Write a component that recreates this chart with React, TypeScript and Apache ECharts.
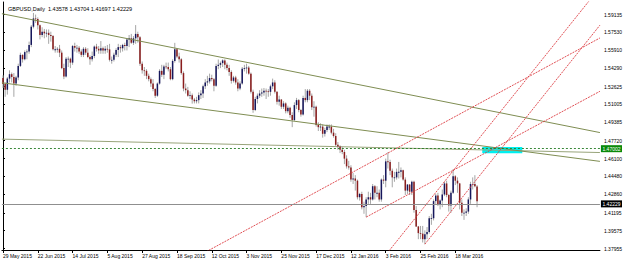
import React, { useEffect, useRef } from "react";
import * as echarts from "echarts";

const titleText = "GBPUSD,Daily  1.43578 1.43704 1.41697 1.42229";

const xTickIndex = [0, 16, 32, 48, 64, 80, 96, 112, 128, 144, 160, 176, 192, 208];
const xTickLabels = [
  "29 May 2015", "22 Jun 2015", "14 Jul 2015", "5 Aug 2015", "27 Aug 2015", "18 Sep 2015",
  "12 Oct 2015", "3 Nov 2015", "25 Nov 2015", "17 Dec 2015", "12 Jan 2016", "3 Feb 2016",
  "25 Feb 2016", "18 Mar 2016",
];
const yTickLabels = [
  1.59135, 1.5753, 1.5591, 1.5429, 1.52625, 1.51005, 1.49385, 1.4772, 1.461, 1.4448,
  1.4286, 1.41195, 1.39575, 1.37955,
];

// daily bars [open, high, low, close], 29 May 2015 .. 1 Apr 2016
const ohlc = [
  [1.5340, 1.5365, 1.5250, 1.5285], [1.5285, 1.5300, 1.5170, 1.5233], [1.5233, 1.5350, 1.5190, 1.5335],
  [1.5335, 1.5410, 1.5300, 1.5375], [1.5375, 1.5390, 1.5300, 1.5350], [1.5350, 1.5385, 1.5170, 1.5290],
  [1.5290, 1.5360, 1.5270, 1.5345], [1.5345, 1.5470, 1.5320, 1.5450], [1.5450, 1.5570, 1.5440, 1.5550],
  [1.5550, 1.5555, 1.5480, 1.5510], [1.5510, 1.5590, 1.5500, 1.5575], [1.5575, 1.5600, 1.5510, 1.5580],
  [1.5580, 1.5670, 1.5560, 1.5640], [1.5640, 1.5820, 1.5620, 1.5805], [1.5805, 1.5930, 1.5790, 1.5880],
  [1.5880, 1.5915, 1.5840, 1.5875], [1.5875, 1.5890, 1.5780, 1.5818], [1.5818, 1.5825, 1.5690, 1.5730],
  [1.5730, 1.5800, 1.5710, 1.5760], [1.5760, 1.5785, 1.5700, 1.5745], [1.5745, 1.5780, 1.5710, 1.5750],
  [1.5750, 1.5780, 1.5650, 1.5730], [1.5730, 1.5760, 1.5670, 1.5720], [1.5720, 1.5730, 1.5590, 1.5600],
  [1.5600, 1.5630, 1.5570, 1.5600], [1.5600, 1.5620, 1.5570, 1.5605], [1.5605, 1.5640, 1.5530, 1.5570],
  [1.5570, 1.5590, 1.5420, 1.5430], [1.5430, 1.5470, 1.5330, 1.5355], [1.5355, 1.5530, 1.5345, 1.5515],
  [1.5515, 1.5535, 1.5440, 1.5515], [1.5515, 1.5525, 1.5430, 1.5480], [1.5480, 1.5640, 1.5460, 1.5630],
  [1.5630, 1.5660, 1.5580, 1.5615], [1.5615, 1.5640, 1.5570, 1.5615], [1.5615, 1.5630, 1.5560, 1.5580],
  [1.5580, 1.5600, 1.5530, 1.5550], [1.5550, 1.5620, 1.5530, 1.5605], [1.5605, 1.5620, 1.5550, 1.5570],
  [1.5570, 1.5610, 1.5520, 1.5530], [1.5530, 1.5545, 1.5460, 1.5510], [1.5510, 1.5580, 1.5490, 1.5540],
  [1.5540, 1.5635, 1.5520, 1.5625], [1.5625, 1.5650, 1.5580, 1.5605], [1.5605, 1.5630, 1.5560, 1.5590],
  [1.5590, 1.5675, 1.5560, 1.5610], [1.5610, 1.5625, 1.5560, 1.5590], [1.5590, 1.5630, 1.5560, 1.5605],
  [1.5605, 1.5640, 1.5570, 1.5600], [1.5600, 1.5650, 1.5490, 1.5505], [1.5505, 1.5535, 1.5470, 1.5505],
  [1.5505, 1.5570, 1.5490, 1.5550], [1.5550, 1.5610, 1.5530, 1.5595], [1.5595, 1.5650, 1.5530, 1.5620],
  [1.5620, 1.5640, 1.5570, 1.5610], [1.5610, 1.5650, 1.5580, 1.5640], [1.5640, 1.5660, 1.5590, 1.5630],
  [1.5630, 1.5700, 1.5590, 1.5690], [1.5690, 1.5730, 1.5620, 1.5700], [1.5700, 1.5740, 1.5650, 1.5660],
  [1.5660, 1.5720, 1.5640, 1.5700], [1.5700, 1.5820, 1.5650, 1.5740], [1.5740, 1.5760, 1.5660, 1.5710],
  [1.5710, 1.5720, 1.5450, 1.5470], [1.5470, 1.5490, 1.5380, 1.5410], [1.5410, 1.5440, 1.5360, 1.5405],
  [1.5405, 1.5420, 1.5330, 1.5360], [1.5360, 1.5380, 1.5310, 1.5330], [1.5330, 1.5345, 1.5260, 1.5290],
  [1.5290, 1.5330, 1.5220, 1.5240], [1.5240, 1.5250, 1.5160, 1.5180], [1.5180, 1.5300, 1.5170, 1.5290],
  [1.5290, 1.5420, 1.5280, 1.5405], [1.5405, 1.5460, 1.5350, 1.5370], [1.5370, 1.5460, 1.5330, 1.5445],
  [1.5445, 1.5480, 1.5420, 1.5440], [1.5440, 1.5480, 1.5400, 1.5420], [1.5420, 1.5440, 1.5320, 1.5330],
  [1.5330, 1.5510, 1.5320, 1.5495], [1.5495, 1.5659, 1.5480, 1.5600], [1.5600, 1.5610, 1.5520, 1.5535],
  [1.5535, 1.5570, 1.5480, 1.5510], [1.5510, 1.5520, 1.5370, 1.5385], [1.5385, 1.5400, 1.5220, 1.5245],
  [1.5245, 1.5290, 1.5200, 1.5230], [1.5230, 1.5260, 1.5170, 1.5180], [1.5180, 1.5220, 1.5150, 1.5185],
  [1.5185, 1.5200, 1.5108, 1.5145], [1.5145, 1.5160, 1.5110, 1.5130], [1.5130, 1.5170, 1.5110, 1.5140],
  [1.5140, 1.5210, 1.5110, 1.5185], [1.5185, 1.5230, 1.5150, 1.5200], [1.5200, 1.5280, 1.5160, 1.5265],
  [1.5265, 1.5330, 1.5240, 1.5300], [1.5300, 1.5360, 1.5270, 1.5310], [1.5310, 1.5380, 1.5290, 1.5340],
  [1.5340, 1.5370, 1.5310, 1.5330], [1.5330, 1.5340, 1.5220, 1.5270], [1.5270, 1.5470, 1.5260, 1.5450],
  [1.5450, 1.5508, 1.5420, 1.5460], [1.5460, 1.5490, 1.5430, 1.5475], [1.5475, 1.5510, 1.5440, 1.5500],
  [1.5500, 1.5510, 1.5420, 1.5460], [1.5460, 1.5480, 1.5410, 1.5430], [1.5430, 1.5460, 1.5360, 1.5395],
  [1.5395, 1.5410, 1.5290, 1.5315], [1.5315, 1.5360, 1.5300, 1.5345], [1.5345, 1.5360, 1.5280, 1.5300],
  [1.5300, 1.5330, 1.5220, 1.5245], [1.5245, 1.5310, 1.5230, 1.5290], [1.5290, 1.5440, 1.5280, 1.5425],
  [1.5425, 1.5460, 1.5400, 1.5430], [1.5430, 1.5470, 1.5380, 1.5435], [1.5435, 1.5450, 1.5370, 1.5380],
  [1.5380, 1.5390, 1.5200, 1.5215], [1.5215, 1.5235, 1.5025, 1.5050], [1.5050, 1.5170, 1.5040, 1.5150],
  [1.5150, 1.5200, 1.5110, 1.5180], [1.5180, 1.5230, 1.5160, 1.5200], [1.5200, 1.5245, 1.5170, 1.5210],
  [1.5210, 1.5250, 1.5180, 1.5225], [1.5225, 1.5245, 1.5150, 1.5220], [1.5220, 1.5240, 1.5170, 1.5215],
  [1.5215, 1.5280, 1.5180, 1.5265], [1.5265, 1.5335, 1.5240, 1.5300], [1.5300, 1.5320, 1.5200, 1.5215],
  [1.5215, 1.5220, 1.5100, 1.5125], [1.5125, 1.5180, 1.5090, 1.5145], [1.5145, 1.5150, 1.5060, 1.5080],
  [1.5080, 1.5130, 1.5060, 1.5110], [1.5110, 1.5120, 1.5020, 1.5040], [1.5040, 1.5090, 1.5020, 1.5070],
  [1.5070, 1.5080, 1.4980, 1.5005], [1.5005, 1.5030, 1.4895, 1.4960], [1.4960, 1.5120, 1.4950, 1.5095],
  [1.5095, 1.5160, 1.5060, 1.5140], [1.5140, 1.5150, 1.5030, 1.5050], [1.5050, 1.5060, 1.4990, 1.5010],
  [1.5010, 1.5180, 1.5000, 1.5160], [1.5160, 1.5240, 1.5120, 1.5140], [1.5140, 1.5240, 1.5120, 1.5225],
  [1.5225, 1.5240, 1.5140, 1.5180], [1.5180, 1.5200, 1.5050, 1.5075], [1.5075, 1.5130, 1.4990, 1.5080],
  [1.5080, 1.5090, 1.4900, 1.4915], [1.4915, 1.4940, 1.4860, 1.4895], [1.4895, 1.4930, 1.4860, 1.4900],
  [1.4900, 1.4920, 1.4800, 1.4835], [1.4835, 1.4890, 1.4810, 1.4870], [1.4870, 1.4920, 1.4850, 1.4900],
  [1.4900, 1.4920, 1.4870, 1.4900], [1.4900, 1.4920, 1.4830, 1.4845], [1.4845, 1.4880, 1.4800, 1.4815],
  [1.4815, 1.4840, 1.4720, 1.4735], [1.4735, 1.4760, 1.4690, 1.4720], [1.4720, 1.4730, 1.4660, 1.4690],
  [1.4690, 1.4720, 1.4650, 1.4670], [1.4670, 1.4690, 1.4560, 1.4610], [1.4610, 1.4640, 1.4520, 1.4540],
  [1.4540, 1.4590, 1.4510, 1.4530], [1.4530, 1.4550, 1.4400, 1.4420], [1.4420, 1.4480, 1.4380, 1.4430],
  [1.4430, 1.4460, 1.4320, 1.4410], [1.4410, 1.4420, 1.4240, 1.4260], [1.4260, 1.4300, 1.4230, 1.4290],
  [1.4290, 1.4310, 1.4150, 1.4170], [1.4170, 1.4220, 1.4110, 1.4180], [1.4180, 1.4260, 1.4080, 1.4240],
  [1.4240, 1.4310, 1.4200, 1.4260], [1.4260, 1.4300, 1.4200, 1.4240], [1.4240, 1.4380, 1.4230, 1.4360],
  [1.4360, 1.4370, 1.4240, 1.4300], [1.4300, 1.4360, 1.4260, 1.4300], [1.4300, 1.4330, 1.4220, 1.4240],
  [1.4240, 1.4430, 1.4220, 1.4420], [1.4420, 1.4460, 1.4380, 1.4410], [1.4410, 1.4610, 1.4350, 1.4585],
  [1.4585, 1.4668, 1.4520, 1.4580], [1.4580, 1.4600, 1.4460, 1.4500], [1.4500, 1.4520, 1.4350, 1.4440],
  [1.4440, 1.4490, 1.4400, 1.4440], [1.4440, 1.4520, 1.4420, 1.4490], [1.4490, 1.4580, 1.4430, 1.4490],
  [1.4490, 1.4530, 1.4440, 1.4505], [1.4505, 1.4510, 1.4410, 1.4420], [1.4420, 1.4440, 1.4280, 1.4320],
  [1.4320, 1.4380, 1.4290, 1.4375], [1.4375, 1.4380, 1.4280, 1.4310], [1.4310, 1.4410, 1.4280, 1.4400],
  [1.4400, 1.4410, 1.4120, 1.4145], [1.4145, 1.4180, 1.3990, 1.3995], [1.3995, 1.4000, 1.3880, 1.3935],
  [1.3935, 1.4000, 1.3880, 1.3930], [1.3930, 1.4000, 1.3850, 1.3880], [1.3880, 1.3960, 1.3835, 1.3925],
  [1.3925, 1.3990, 1.3880, 1.3945], [1.3945, 1.4090, 1.3930, 1.4070], [1.4070, 1.4110, 1.4010, 1.4070],
  [1.4070, 1.4240, 1.4050, 1.4225], [1.4225, 1.4290, 1.4200, 1.4275], [1.4275, 1.4300, 1.4180, 1.4190],
  [1.4190, 1.4240, 1.4150, 1.4230], [1.4230, 1.4330, 1.4170, 1.4285], [1.4285, 1.4400, 1.4270, 1.4385],
  [1.4385, 1.4410, 1.4260, 1.4280], [1.4280, 1.4290, 1.4130, 1.4185], [1.4185, 1.4320, 1.4120, 1.4300],
  [1.4300, 1.4515, 1.4290, 1.4450], [1.4450, 1.4460, 1.4370, 1.4410], [1.4410, 1.4440, 1.4300, 1.4385],
  [1.4385, 1.4390, 1.4150, 1.4210], [1.4210, 1.4240, 1.4090, 1.4120], [1.4120, 1.4150, 1.4055, 1.4120],
  [1.4120, 1.4160, 1.4090, 1.4130], [1.4130, 1.4260, 1.4110, 1.4240], [1.4240, 1.4400, 1.4200, 1.4380],
  [1.4380, 1.4440, 1.4330, 1.4380], [1.4380, 1.4460, 1.4350, 1.4360], [1.43578, 1.43704, 1.41697, 1.42229],
];

// trendline anchors [barIndex, price]
const channelUpper = [[-0.5, 1.5923], [274.5, 1.4846]];
const channelLower = [[-0.5, 1.5297], [274.5, 1.4585]];
const longLine = [[-0.5, 1.47866], [274.5, 1.46651]];
const redLineA = [[86.1, 1.36878], [274.5, 1.57032]];
const redLineB = [[167, 1.408], [274.5, 1.52199]];
const redLineC1 = [[173.2, 1.36678], [274.0, 1.61492]];
const redLineC2 = [[194, 1.3835], [274.5, 1.58192]];

const alertLevel = 1.47002;
const bidLevel = 1.42229;
const alertBox = [[220.4, 1.47141], [238.8, 1.46597]];

const FONT = "Liberation Sans";

export default function App() {
  const ref = useRef<HTMLDivElement>(null);
  useEffect(() => {
    if (!ref.current) return;
    const chart = echarts.init(ref.current, undefined, { renderer: "svg" });
    const candleData = ohlc.map((d, i) => [i, d[0], d[1], d[2], d[3]]);
    const olive = (data: number[][], color: string) => ({
      type: "line",
      data,
      symbol: "none",
      silent: true,
      clip: true,
      z: 3,
      lineStyle: { color, width: 1 },
    });
    const red = (data: number[][]) => ({
      type: "line",
      data,
      symbol: "none",
      silent: true,
      clip: true,
      z: 4,
      lineStyle: { color: "#dc3c42", width: 0.9, type: [2, 1] },
    });
    chart.setOption({
      animation: false,
      backgroundColor: "#ffffff",
      textStyle: { fontFamily: FONT },
      title: {
        text: titleText,
        left: 3,
        top: 1,
        textStyle: { fontSize: 5.5, fontWeight: "normal", color: "#000", fontFamily: FONT },
      },
      grid: { left: 1, right: 23.5, top: 2, bottom: 12, containLabel: false },
      xAxis: {
        type: "value",
        min: -0.5,
        max: 274.5,
        splitLine: { show: false },
        axisLine: { lineStyle: { color: "#000", width: 1 } },
        axisTick: { show: true, customValues: xTickIndex, length: 3, lineStyle: { color: "#000" } },
        axisLabel: {
          customValues: xTickIndex,
          formatter: (v: number) => xTickLabels[xTickIndex.indexOf(Math.round(v))] ?? "",
          fontSize: 5,
          color: "#000",
          align: "left",
          margin: 3,
          fontFamily: FONT,
        },
      },
      yAxis: {
        type: "value",
        position: "right",
        min: 1.3782,
        max: 1.6029,
        scale: true,
        splitLine: { show: false },
        axisLine: { show: true, lineStyle: { color: "#000", width: 1 } },
        axisTick: { show: true, customValues: yTickLabels, length: 2, lineStyle: { color: "#000" } },
        axisLabel: {
          customValues: yTickLabels,
          formatter: (v: number) => v.toFixed(5),
          fontSize: 5,
          color: "#000",
          margin: 4,
          fontFamily: FONT,
        },
      },
      series: [
        {
          type: "line",
          data: longLine,
          symbol: "none",
          silent: true,
          z: 1,
          lineStyle: { color: "#98a47a", width: 1 },
          markArea: {
            silent: true,
            itemStyle: { color: "#00f0f0", opacity: 1 },
            data: [[{ coord: alertBox[0] }, { coord: alertBox[1] }]],
          },
          markLine: {
            silent: true,
            symbol: "none",
            data: [
              {
                yAxis: bidLevel,
                lineStyle: { color: "#8f8f8f", width: 1, type: "solid" },
                label: {
                  show: true,
                  position: "end",
                  distance: 1,
                  formatter: bidLevel.toFixed(5),
                  backgroundColor: "#000",
                  color: "#fff",
                  fontSize: 5,
                  padding: [1, 1.5],
                  fontFamily: FONT,
                },
              },
              {
                yAxis: alertLevel,
                lineStyle: { color: "#237a23", width: 0.9, type: [2, 2] },
                label: {
                  show: true,
                  position: "end",
                  distance: 1,
                  formatter: alertLevel.toFixed(5),
                  backgroundColor: "#0a8a0a",
                  color: "#fff",
                  fontSize: 5,
                  padding: [1, 1.5],
                  fontFamily: FONT,
                },
              },
            ],
          },
        },
        {
          type: "custom",
          z: 2,
          silent: true,
          data: candleData,
          encode: { x: 0, y: [1, 2, 3, 4] },
          renderItem: (_params: any, api: any) => {
            const i = api.value(0);
            const o = api.value(1);
            const h = api.value(2);
            const l = api.value(3);
            const c = api.value(4);
            const pO = api.coord([i, o]);
            const pC = api.coord([i, c]);
            const pH = api.coord([i, h]);
            const pL = api.coord([i, l]);
            const x = pO[0];
            const bw = api.size([1, 0])[0] * 0.7;
            const top = Math.min(pO[1], pC[1]);
            const hgt = Math.max(Math.abs(pO[1] - pC[1]), 0.8);
            return {
              type: "group",
              children: [
                {
                  type: "line",
                  shape: { x1: x, y1: pH[1], x2: x, y2: pL[1] },
                  style: { stroke: "#a6a6a6", lineWidth: 1 },
                },
                {
                  type: "rect",
                  shape: { x: x - bw / 2, y: top, width: bw, height: hgt },
                  style: { fill: c >= o ? "#16175c" : "#8a1d1d" },
                },
              ],
            };
          },
        },
        olive(channelUpper, "#7f8d52"),
        olive(channelLower, "#7f8d52"),
        red(redLineA),
        red(redLineB),
        red(redLineC1),
        red(redLineC2),
      ],
    });
    return () => chart.dispose();
  }, []);
  return (
    <div
      ref={ref}
      style={{ position: "fixed", left: 0, top: 0, width: 625, height: 262, background: "#fff" }}
    />
  );
}
